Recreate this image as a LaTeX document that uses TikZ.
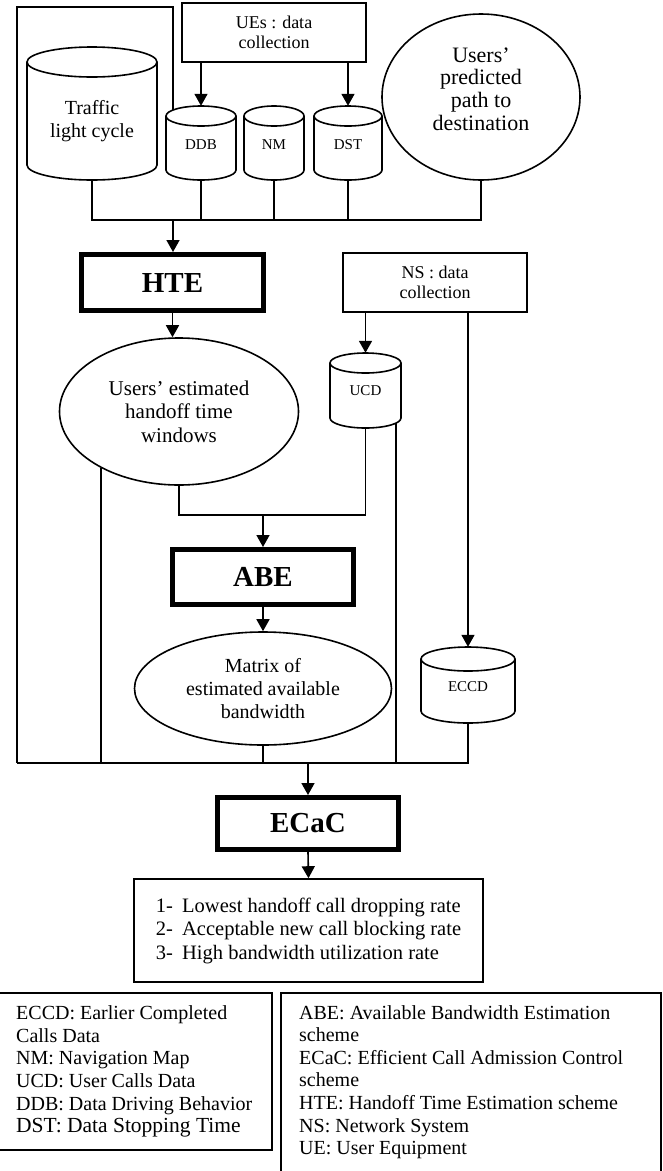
\documentclass[tikz,border=0pt]{standalone}
\usepackage{fontspec}
\setmainfont{Liberation Serif}
\usetikzlibrary{arrows.meta,shapes.geometric,calc}
\newcommand\fsmall{\fontsize{15}{17}\selectfont}
\newcommand\fbx{\fontsize{18}{20}\selectfont}
\newcommand\fmid{\fontsize{20}{23}\selectfont}
\newcommand\fbig{\fontsize{22}{22.7}\selectfont}
\newcommand\fhead{\fontsize{29}{32}\selectfont\bfseries}
\newcommand\fleg{\fontsize{20}{22.6}\selectfont}
\newcommand\fres{\fontsize{20.5}{23.5}\selectfont}
% cylinder: name, cx, top, bottom, rx, ry, font, text, text-y
\newcommand\mycyl[9]{%
  \pgfmathsetmacro\cw{2*#5}\pgfmathsetmacro\ch{#4-#3}%
  \node[cylbox, minimum width=\cw pt, minimum height=\ch pt] (#1) at (#2,{(#3+#4)/2}) {};
  \draw[ln] ({#2-#5},{#3+#6}) -- ({#2-#5},{#4-#6})
     arc[start angle=180,end angle=360,x radius=#5pt,y radius=#6pt] -- ({#2+#5},{#3+#6});
  \draw[ln] (#2,{#3+#6}) ellipse[x radius=#5pt,y radius=#6pt];
  \node[lbl,font=#7] (#1-t) at (#2,#9) {#8};
}
\begin{document}
\begin{tikzpicture}[x=1pt,y=-1pt,
  ln/.style={line width=1.6pt},
  arr/.style={ln,-{Triangle[length=12pt,width=13pt]}},
  plainbox/.style={draw,rectangle,line width=1.6pt,inner sep=0pt,align=center},
  headbox/.style={draw,rectangle,line width=5pt,inner sep=0pt,font=\fhead},
  ell/.style={draw,ellipse,line width=1.6pt,inner sep=0pt,align=center},
  cylbox/.style={rectangle,inner sep=0pt},
  lbl/.style={inner sep=0pt,align=center},
  legtext/.style={inner sep=0pt,align=left,anchor=west,font=\fleg}]
\fill[white] (0,0) rectangle (663,1171);
\useasboundingbox (0,0) rectangle (663,1171);

% top row
\node[plainbox,font=\fbx,minimum width=184pt,minimum height=59pt] (ues) at (274,32.5) {UEs : data\\collection};
\mycyl{traffic}{92}{47}{180}{65}{15}{\fmid}{Traffic\\light cycle}{121.5}
\mycyl{ddb}{201}{106}{180}{35}{10}{\fsmall}{DDB}{145}
\mycyl{nm}{274}{106}{180}{30}{10}{\fsmall}{NM}{145}
\mycyl{dst}{348}{106}{180}{34}{10}{\fsmall}{DST}{145}
\node[ell,minimum width=198pt,minimum height=166pt] (users) at (481,97) {};
\node[lbl,font=\fbig] (users-t) at (481,89) {Users’\\predicted\\path to\\destination};

\draw[arr] (ues.south -| ddb) -- (ddb.north);
\draw[arr] (ues.south -| dst) -- (dst.north);

\coordinate (topbus) at (173,220);
\draw[ln] (traffic.south) |- (users.south |- topbus) -- (users.south);
\draw[ln] (ddb.south) -- (ddb.south |- topbus);
\draw[ln] (nm.south) -- (nm.south |- topbus);
\draw[ln] (dst.south) -- (dst.south |- topbus);

% HTE
\node[headbox,minimum width=182pt,minimum height=56pt] (hte) at (172.5,282.5) {HTE};
\draw[arr] (topbus) -- (topbus |- hte.north);

\node[ell,font=\fontsize{21}{23.5}\selectfont,minimum width=239pt,minimum height=147pt] (hw) at (179,411.5) {Users’ estimated\\handoff time\\windows};
\draw[arr] (hte.south) -- (hte.south |- hw.north);

% NS
\node[plainbox,font=\fbx,minimum width=184pt,minimum height=59pt] (ns) at (435,282.5) {NS : data\\collection};
\mycyl{ucd}{365.5}{353}{428}{35.5}{10}{\fsmall}{UCD}{391}
\mycyl{eccd}{468}{647}{723}{47}{12}{\fsmall}{ECCD}{687}
\draw[arr] (ns.south -| ucd) -- (ucd.north);
\draw[arr] (ns.south -| eccd) -- (eccd.north);

% ABE
\coordinate (mid2) at (263,515);
\node[headbox,minimum width=181pt,minimum height=55pt] (abe) at (263,577) {ABE};
\draw[ln] (hw.south) |- (mid2) -| (ucd.south);
\draw[arr] (mid2) -- (abe.north);
\node[ell,font=\fmid,minimum width=257pt,minimum height=113pt] (mx) at (263,688.5) {Matrix of\\estimated available\\bandwidth};
\draw[arr] (abe.south) -- (mx.north);

% bottom bus
\coordinate (busL) at (17,763);
\coordinate (busM) at (308,763);
\coordinate (ddbtap) at (173,110);
\coordinate (ucdtap) at (396,423);
\draw[ln] (ddbtap) -- ++(0,-103) -| (busL);
\draw[ln] (eccd.south) |- (busL);
\draw[ln] (hw.216) -- (hw.216 |- busL);
\draw[ln] (ucdtap) -- (ucdtap |- busL);
\draw[ln] (mx.south) -- (mx.south |- busL);

% ECaC
\node[headbox,minimum width=181pt,minimum height=52pt] (ecac) at (308,823.5) {ECaC};
\draw[arr] (busM) -- (ecac.north);
\node[plainbox,font=\fres,align=left,minimum width=349pt,minimum height=103pt] (res) at (308.5,930.5)
 {1-\hspace{0.45em}Lowest handoff call dropping rate\\2-\hspace{0.45em}Acceptable new call blocking rate\\3-\hspace{0.45em}High bandwidth utilization rate};
\draw[arr] (ecac.south) -- (res.north);

% legends
\node[plainbox,minimum width=278pt,minimum height=157pt] (legL) at (133,1071.5) {};
\node[legtext] (legL-t) at (16,1071.5)
 {ECCD: Earlier Completed\\Calls Data\\NM: Navigation Map\\UCD: User Calls Data\\DDB: Data Driving Behavior\\{\fontsize{21.5}{22.6}\selectfont DST: Data Stopping Time}};
\node[plainbox,minimum width=380pt,minimum height=190pt] (legR) at (471,1088) {};
\node[legtext] (legR-t) at (299,1082)
 {ABE: Available Bandwidth Estimation\\scheme\\ECaC: Efficient Call Admission Control\\scheme\\HTE: Handoff Time Estimation scheme\\NS: Network System\\UE: User Equipment};
\end{tikzpicture}
\end{document}
